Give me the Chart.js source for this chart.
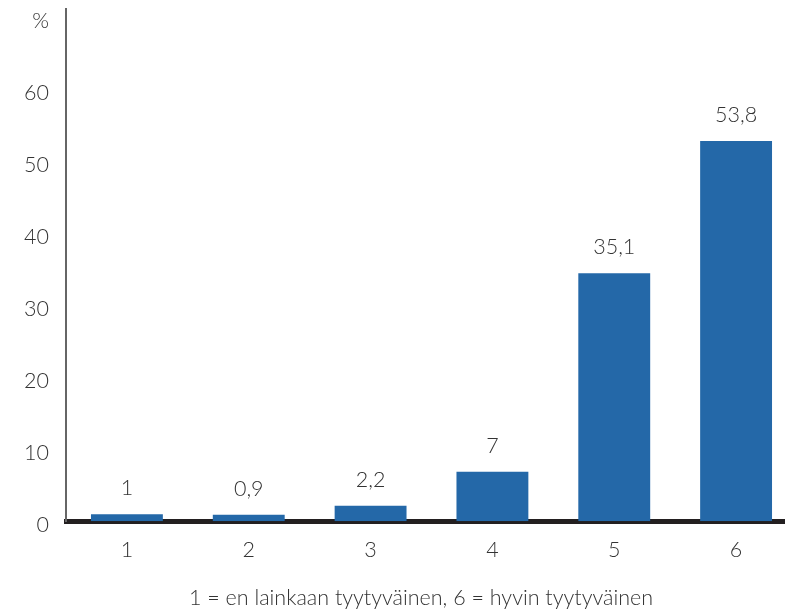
<!DOCTYPE html>
<html>
<head>
<meta charset="utf-8">
<script src="https://cdn.jsdelivr.net/npm/chart.js@4"></script>
<style>
  html, body { margin: 0; padding: 0; background: #fff; overflow: hidden; }
  #wrap { width: 797px; height: 613px; }
</style>
</head>
<body>
<div id="wrap"><canvas id="chart" width="797" height="613"></canvas></div>
<script>
// values
const categories = ["1", "2", "3", "4", "5", "6"];
const shares = [1, 0.9, 2.2, 7, 35.1, 53.8];
const valueLabels = ["1", "0,9", "2,2", "7", "35,1", "53,8"];
const yTicks = [0, 10, 20, 30, 40, 50, 60, 70];
const yTopLabel = "%";
const xTitle = "1 = en lainkaan tyytyväinen, 6 = hyvin tyytyväinen";

const FONT = "Lato, 'Open Sans', sans-serif";
const TEXT = "#333333";

// labels above the bars + axis caption under the chart
const barLabels = {
  id: "barLabels",
  afterDatasetsDraw(chart) {
    const { ctx } = chart;
    const meta = chart.getDatasetMeta(0);
    ctx.save();
    ctx.font = "300 21.5px " + FONT;
    ctx.fillStyle = TEXT;
    ctx.textAlign = "center";
    ctx.textBaseline = "middle";
    meta.data.forEach((bar, i) => {
      ctx.fillText(valueLabels[i], bar.x, bar.y - 26);
    });
    ctx.fillText(xTitle, 421, 598);
    ctx.restore();
  },
};

new Chart(document.getElementById("chart"), {
  type: "bar",
  data: {
    labels: categories,
    datasets: [
      {
        data: shares,
        yAxisID: "y",
        backgroundColor: "#2468a8",
        barPercentage: 0.59,
        categoryPercentage: 1,
      },
    ],
  },
  options: {
    responsive: false,
    animation: false,
    layout: { padding: { top: 9, right: 0, bottom: 34, left: 0 } },
    plugins: {
      legend: { display: false },
      tooltip: { enabled: false },
    },
    scales: {
      x: {
        grid: { display: false, drawTicks: false },
        border: { color: "#231f20", width: 5 },
        ticks: {
          color: TEXT,
          font: { family: FONT, size: 21.5, weight: 300 },
          padding: 16,
        },
      },
      // value scale for the bars (not drawn)
      y: {
        display: false,
        min: 0,
        max: 72.5,
      },
      // drawn axis: the original's tick labels sit a little wider apart than the bars
      yl: {
        position: "left",
        min: 0.56,
        max: 71.67,
        afterBuildTicks: (scale) => {
          scale.ticks = yTicks.map((v) => ({ value: v }));
        },
        afterFit: (scale) => {
          scale.width = 66;
          scale.paddingTop = 0;
          scale.paddingBottom = 0;
        },
        grid: { display: false, drawTicks: false },
        border: { color: "#666666", width: 2 },
        ticks: {
          color: TEXT,
          font: { family: FONT, size: 21.5, weight: 300 },
          padding: 17,
          callback: (v) => (v === 70 ? yTopLabel : v),
        },
      },
    },
  },
  plugins: [barLabels],
});
</script>
</body>
</html>
